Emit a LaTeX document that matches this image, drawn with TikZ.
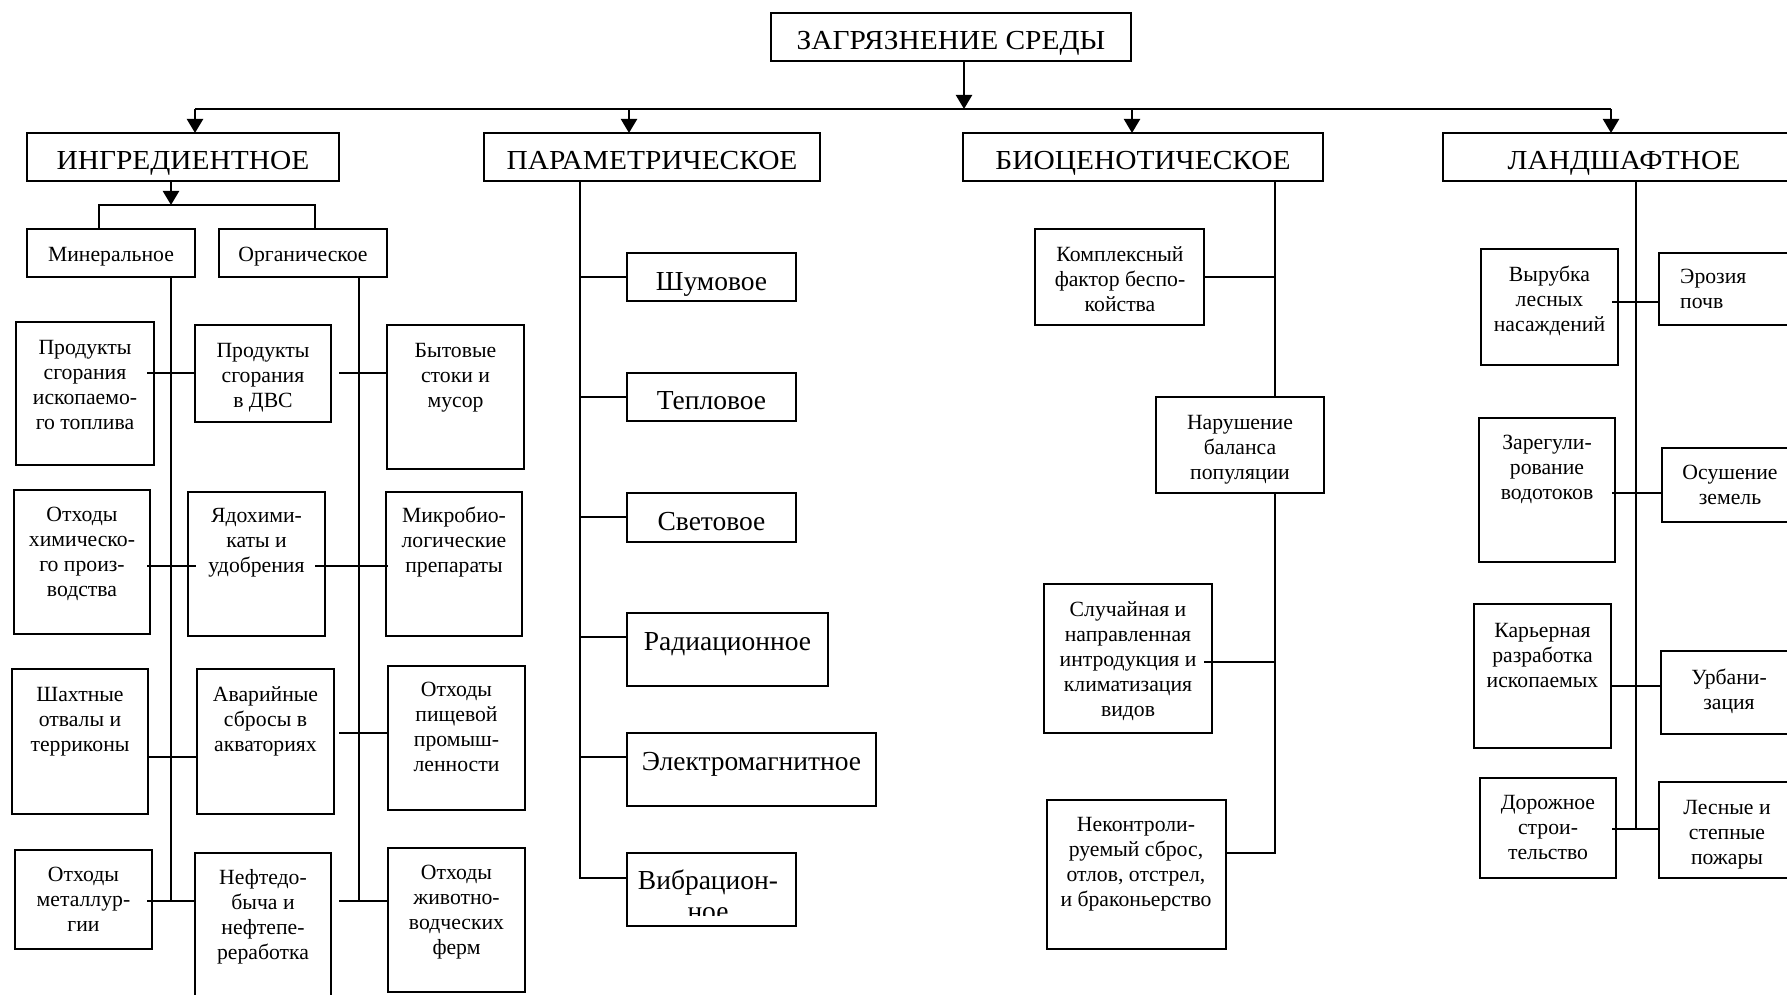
\documentclass[tikz,border=0pt]{standalone}
\usepackage{fontspec}
\usepackage{graphicx}
\setmainfont{Liberation Serif}
\usetikzlibrary{arrows.meta,calc}
\newcommand\smf{\fontsize{21.7}{25}\selectfont}
\newcommand\lgf{\fontsize{27.5}{31.6}\selectfont}
\newcommand\hd[1]{\scalebox{1.07}[1]{#1}}
\newcommand\mlines[1]{\begin{tabular}[t]{@{}c@{}}#1\end{tabular}}
\newcommand\mlinesl[1]{\begin{tabular}[t]{@{}l@{}}#1\end{tabular}}
\newcommand\mkbox[5]{\node[box, minimum width={#4-#2}, minimum height={#5-#3}] (#1) at ({(#2+#4)/2},{(#3+#5)/2}) {};}
\tikzset{
  box/.style={draw, line width=2.2pt, inner sep=0pt, outer sep=0pt},
  ln/.style={line width=2.2pt},
  arr/.style={line width=2.2pt, -{Triangle[length=14pt,width=16pt]}},
  tx/.style={anchor=base, inner sep=0pt, font=\smf},
  txl/.style={anchor=base west, inner sep=0pt, font=\smf},
  tb/.style={anchor=base, inner sep=0pt, font=\lgf}
}
\begin{document}
\begin{tikzpicture}[x=1pt,y=-1pt]
\path[use as bounding box, clip] (0,0) rectangle (1787,995);

% top level
\mkbox{top}{771}{13}{1131}{61}
\node[tb] (topt) at (951,50) {\hd{ЗАГРЯЗНЕНИЕ СРЕДЫ}};
\mkbox{ING}{27}{133}{339}{181}
\node[tb] (INGt) at (183,170) {\hd{ИНГРЕДИЕНТНОЕ}};
\mkbox{PAR}{484}{133}{820}{181}
\node[tb] (PARt) at (652,170) {\hd{ПАРАМЕТРИЧЕСКОЕ}};
\mkbox{BIO}{963}{133}{1323}{181}
\node[tb] (BIOt) at (1143,170) {\hd{БИОЦЕНОТИЧЕСКОЕ}};
\mkbox{LAN}{1443}{133}{1805}{181}
\node[tb] (LANt) at (1624,170) {\hd{ЛАНДШАФТНОЕ}};

\coordinate (tj) at (964,109);
\coordinate (h1) at (195,109);
\coordinate (h2) at (629,109);
\coordinate (h3) at (1132,109);
\coordinate (h4) at (1611,109);
\draw[arr] (top.south -| tj) -- (tj);
\draw[ln] (h1) -- (h4);
\draw[arr] (h1) -- (h1 |- ING.north);
\draw[arr] (h2) -- (h2 |- PAR.north);
\draw[arr] (h3) -- (h3 |- BIO.north);
\draw[arr] (h4) -- (h4 |- LAN.north);

% ingredient branch
\mkbox{MIN}{27}{229}{195}{277}
\node[tx] (MINt) at (111,261) {Минеральное};
\mkbox{ORG}{219}{229}{387}{277}
\node[tx] (ORGt) at (303,261) {Органическое};
\coordinate (ij) at (171,205);
\coordinate (iL) at (99,205);
\coordinate (iR) at (315,205);
\draw[arr] (ING.south -| ij) -- (ij);
\draw[ln] (iL |- MIN.north) -- (iL) -- (iR) -- (iR |- ORG.north);
\coordinate (mv) at (171,901);
\coordinate (ov) at (359,901);
\draw[ln] (MIN.south -| mv) -- (mv);
\draw[ln] (ORG.south -| ov) -- (ov);

\mkbox{A1}{16}{322}{154}{465}
\node[tx] (A1t) at (85,354) {\mlines{Продукты\\сгорания\\ископаемо-\\го топлива}};
\mkbox{A2}{195}{325}{331}{422}
\node[tx] (A2t) at (263,357) {\mlines{Продукты\\сгорания\\в ДВС}};
\mkbox{A3}{387}{325}{524}{469}
\node[tx] (A3t) at (455.5,357) {\mlines{Бытовые\\стоки и\\мусор}};
\mkbox{B1}{14}{490}{150}{634}
\node[tx] (B1t) at (82,521) {\mlines{Отходы\\химическо-\\го произ-\\водства}};
\mkbox{B2}{188}{492}{325}{636}
\node[tx] (B2t) at (256.5,522) {\mlines{Ядохими-\\каты и\\удобрения}};
\mkbox{B3}{386}{492}{522}{636}
\node[tx] (B3t) at (454,522) {\mlines{Микробио-\\логические\\препараты}};
\mkbox{C1}{12}{669}{148}{814}
\node[tx] (C1t) at (80,701) {\mlines{Шахтные\\отвалы и\\терриконы}};
\mkbox{C2}{197}{669}{334}{814}
\node[tx] (C2t) at (265.5,701) {\mlines{Аварийные\\сбросы в\\акваториях}};
\mkbox{C3}{388}{666}{525}{810}
\node[tx] (C3t) at (456.5,696) {\mlines{Отходы\\пищевой\\промыш-\\ленности}};
\mkbox{D1}{15}{850}{152}{949}
\node[tx] (D1t) at (83.5,881) {\mlines{Отходы\\металлур-\\гии}};
\mkbox{D2}{195}{853}{331}{1000}
\node[tx] (D2t) at (263,884) {\mlines{Нефтедо-\\быча и\\нефтепе-\\реработка}};
\mkbox{D3}{388}{848}{525}{992}
\node[tx] (D3t) at (456.5,879) {\mlines{Отходы\\животно-\\водческих\\ферм}};

\coordinate (m1) at (171,373);
\coordinate (m2) at (171,566);
\coordinate (m3) at (171,757);
\coordinate (o3) at (359,733);
\draw[ln] ($(A1.east|-m1)+(-7,0)$) -- (A2.west|-m1);
\draw[ln] ($(A2.east|-m1)+(8,0)$) -- (A3.west|-m1);
\draw[ln] ($(B1.east|-m2)+(-3,0)$) -- ($(B2.west|-m2)+(8,0)$);
\draw[ln] ($(B2.east|-m2)+(-10,0)$) -- ($(B3.west|-m2)+(2,0)$);
\draw[ln] (C1.east|-m3) -- (C2.west|-m3);
\draw[ln] ($(C2.east|-o3)+(5,0)$) -- (C3.west|-o3);
\draw[ln] ($(D1.east|-mv)+(-5,0)$) -- (D2.west|-mv);
\draw[ln] ($(D2.east|-mv)+(8,0)$) -- (D3.west|-mv);

% parametric branch
\mkbox{P1}{627}{253}{796}{301}
\node[tb] (P1t) at (711.5,290) {Шумовое};
\mkbox{P2}{627}{373}{796}{421}
\node[tb] (P2t) at (711.5,409) {Тепловое};
\mkbox{P3}{627}{493}{796}{542}
\node[tb] (P3t) at (711.5,530) {Световое};
\mkbox{P4}{627}{613}{828}{686}
\node[tb] (P4t) at (727.5,650) {Радиационное};
\mkbox{P5}{627}{733}{876}{806}
\node[tb] (P5t) at (751.5,770) {Электромагнитное};
\mkbox{P6}{627}{853}{796}{926}
\begin{scope}
\clip (627,853) rectangle (796,915);
\node[tb] (P6t) at (708,889) {\mlines{Вибрацион-\\ное}};
\end{scope}
\coordinate (pv) at (580,878);
\coordinate (pt1) at (580,277);
\coordinate (pt2) at (580,397);
\coordinate (pt3) at (580,517);
\coordinate (pt4) at (580,637);
\coordinate (pt5) at (580,757);
\draw[ln] (PAR.south -| pv) -- (pv) -- (pv -| P6.west);
\draw[ln] (pt1) -- (pt1 -| P1.west);
\draw[ln] (pt2) -- (pt2 -| P2.west);
\draw[ln] (pt3) -- (pt3 -| P3.west);
\draw[ln] (pt4) -- (pt4 -| P4.west);
\draw[ln] (pt5) -- (pt5 -| P5.west);

% biocenotic branch
\mkbox{Q1}{1035}{229}{1204}{325}
\node[tx] (Q1t) at (1120,261) {\mlines{Комплексный\\фактор беспо-\\койства}};
\mkbox{Q2}{1156}{397}{1324}{493}
\node[tx] (Q2t) at (1240,429) {\mlines{Нарушение\\баланса\\популяции}};
\mkbox{Q3}{1044}{584}{1212}{733}
\node[tx] (Q3t) at (1128,616) {\mlines{Случайная и\\направленная\\интродукция и\\климатизация\\видов}};
\mkbox{Q4}{1047}{800}{1226}{949}
\node[tx] (Q4t) at (1136,831) {\mlines{Неконтроли-\\руемый сброс,\\отлов, отстрел,\\и браконьерство}};
\coordinate (bv) at (1275,853);
\coordinate (bt) at (1275,662);
\draw[ln] (BIO.south -| bv) -- (Q2.north -| bv);
\draw[ln] (Q2.south -| bv) -- (bv) -- (bv -| Q4.east);
\draw[ln] (Q1.east) -- (Q1.east -| bv);
\draw[ln] ($(Q3.east |- bt)+(-8,0)$) -- (bt);

% landscape branch
\mkbox{L1}{1481}{249}{1618}{365}
\node[tx] (L1t) at (1549.5,281) {\mlines{Вырубка\\лесных\\насаждений}};
\mkbox{R1}{1659}{253}{1800}{325}
\node[txl] (R1t) at (1680,283) {\mlinesl{Эрозия\\почв}};
\mkbox{L2}{1479}{418}{1615}{562}
\node[tx] (L2t) at (1547,449) {\mlines{Зарегули-\\рование\\водотоков}};
\mkbox{R2}{1662}{448}{1800}{522}
\node[tx] (R2t) at (1730,479) {\mlines{Осушение\\земель}};
\mkbox{L3}{1474}{604}{1611}{748}
\node[tx] (L3t) at (1542.5,637) {\mlines{Карьерная\\разработка\\ископаемых}};
\mkbox{R3}{1661}{651}{1800}{734}
\node[tx] (R3t) at (1729,684) {\mlines{Урбани-\\зация}};
\mkbox{L4}{1480}{778}{1616}{878}
\node[tx] (L4t) at (1548,809) {\mlines{Дорожное\\строи-\\тельство}};
\mkbox{R4}{1659}{782}{1800}{878}
\node[tx] (R4t) at (1727,814) {\mlines{Лесные и\\степные\\пожары}};
\coordinate (lv) at (1636,829);
\coordinate (lt1) at (1636,302);
\coordinate (lt2) at (1636,493);
\coordinate (lt3) at (1636,686);
\draw[ln] (LAN.south -| lv) -- (lv);
\draw[ln] ($(L1.east |- lt1)+(-6,0)$) -- (R1.west |- lt1);
\draw[ln] ($(L2.east |- lt2)+(-3,0)$) -- (R2.west |- lt2);
\draw[ln] (L3.east |- lt3) -- (R3.west |- lt3);
\draw[ln] ($(L4.east |- lv)+(-4,0)$) -- (R4.west |- lv);
\end{tikzpicture}
\end{document}
